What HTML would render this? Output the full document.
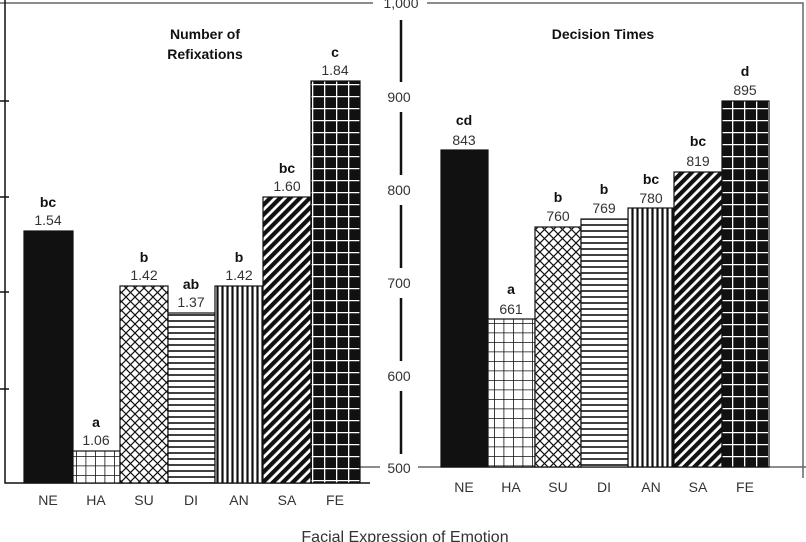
<!DOCTYPE html>
<html><head><meta charset="utf-8"><style>
body{margin:0;background:#fff;}
svg{display:block;font-family:"Liberation Sans",sans-serif;}
</style></head><body>
<svg width="806" height="542" viewBox="0 0 806 542">
<defs>
<pattern id="ha" width="9.5" height="9.5" patternUnits="userSpaceOnUse"><rect width="9.5" height="9.5" fill="#fff"/><path d="M0 0H9.5M0 0V9.5" stroke="#111" stroke-width="1.6"/></pattern>
<pattern id="su" width="9" height="9" patternUnits="userSpaceOnUse"><rect width="9" height="9" fill="#fff"/><path d="M0 0L9 9M9 0L0 9" stroke="#111" stroke-width="1.2"/></pattern>
<pattern id="di" width="6" height="6" patternUnits="userSpaceOnUse"><rect width="6" height="6" fill="#fff"/><path d="M0 3H6" stroke="#111" stroke-width="1.6"/></pattern>
<pattern id="an" width="5" height="5" patternUnits="userSpaceOnUse"><rect width="5" height="5" fill="#fff"/><path d="M2.5 0V5" stroke="#111" stroke-width="2.2"/></pattern>
<pattern id="sa" width="7" height="7" patternUnits="userSpaceOnUse" patternTransform="rotate(45)"><rect width="7" height="7" fill="#fff"/><rect x="0" y="0" width="4.2" height="7" fill="#111"/></pattern>
<pattern id="fe" width="12" height="12" patternUnits="userSpaceOnUse"><rect width="12" height="12" fill="#111"/><path d="M0 0.5H12M0.5 0V12" stroke="#fff" stroke-width="1.6"/></pattern>
</defs>
<g stroke="#666" stroke-width="1.5" fill="none">
<path d="M0 3H373M427 3H803V478"/>
<path d="M360 467H380M418 467H806"/>
</g>
<path d="M5 0V483H370" stroke="#111" stroke-width="1.5" fill="none"/>
<path d="M0 101H9M0 197H9M0 292H9M0 389H9" stroke="#111" stroke-width="1.5"/>
<path d="M401 20V82M401 112V175M401 205V268M401 298V361M401 391V454" stroke="#111" stroke-width="2.5"/>
<g font-size="14" fill="#333" text-anchor="middle">
<text x="401" y="8">1,000</text><text x="399" y="102">900</text><text x="399" y="195">800</text><text x="399" y="288">700</text><text x="399" y="381">600</text><text x="399" y="473">500</text>
</g>
<g stroke="#111" stroke-width="1.2">
<rect x="24" y="231" width="49" height="252" fill="#111"/>
<rect x="73" y="451" width="47" height="32" fill="url(#ha)"/>
<rect x="120" y="286" width="48" height="197" fill="url(#su)"/>
<rect x="168" y="313" width="47" height="170" fill="url(#di)"/>
<rect x="215" y="286" width="48" height="197" fill="url(#an)"/>
<rect x="263" y="197" width="48" height="286" fill="url(#sa)"/>
<rect x="311" y="81" width="49" height="402" fill="url(#fe)"/>
<rect x="441" y="150" width="47" height="317" fill="#111"/>
<rect x="488" y="319" width="47" height="148" fill="url(#ha)"/>
<rect x="535" y="227" width="46" height="240" fill="url(#su)"/>
<rect x="581" y="219" width="47" height="248" fill="url(#di)"/>
<rect x="628" y="208" width="46" height="259" fill="url(#an)"/>
<rect x="674" y="172" width="48" height="295" fill="url(#sa)"/>
<rect x="722" y="101" width="47" height="366" fill="url(#fe)"/>
</g>
<g font-size="14" fill="#333" text-anchor="middle">
<text x="48" y="225">1.54</text><text x="96" y="445">1.06</text><text x="144" y="280">1.42</text><text x="191" y="307">1.37</text><text x="239" y="280">1.42</text><text x="287" y="191">1.60</text><text x="335" y="75">1.84</text>
<text x="464" y="145">843</text><text x="511" y="314">661</text><text x="558" y="221">760</text><text x="604" y="213">769</text><text x="651" y="203">780</text><text x="698" y="166">819</text><text x="745" y="95">895</text>
<text x="48" y="505">NE</text><text x="96" y="505">HA</text><text x="144" y="505">SU</text><text x="191" y="505">DI</text><text x="239" y="505">AN</text><text x="287" y="505">SA</text><text x="335" y="505">FE</text>
<text x="464" y="492">NE</text><text x="511" y="492">HA</text><text x="558" y="492">SU</text><text x="604" y="492">DI</text><text x="651" y="492">AN</text><text x="698" y="492">SA</text><text x="745" y="492">FE</text>
<text x="405" y="542" font-size="16">Facial Expression of Emotion</text>
</g>
<g font-size="14" font-weight="bold" fill="#111" text-anchor="middle">
<text x="48" y="207">bc</text><text x="96" y="427">a</text><text x="144" y="262">b</text><text x="191" y="289">ab</text><text x="239" y="262">b</text><text x="287" y="173">bc</text><text x="335" y="57">c</text>
<text x="464" y="125">cd</text><text x="511" y="294">a</text><text x="558" y="202">b</text><text x="604" y="194">b</text><text x="651" y="184">bc</text><text x="698" y="146">bc</text><text x="745" y="76">d</text>
<text x="205" y="39">Number of</text><text x="205" y="59">Refixations</text>
<text x="603" y="39">Decision Times</text>
</g>
</svg>
</body></html>
